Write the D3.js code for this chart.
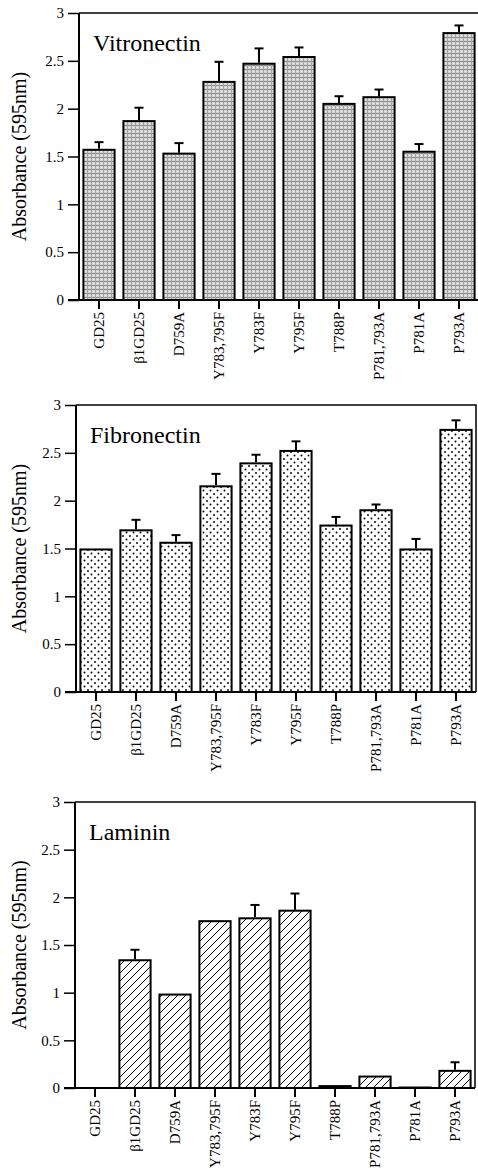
<!DOCTYPE html>
<html>
<head>
<meta charset="utf-8">
<script src="https://cdn.jsdelivr.net/npm/d3@7"></script>
<style>
    body { margin: 0; background: #fff; }
    svg text { font-family: "Liberation Serif", "Times New Roman", serif; fill: #000; }
</style>
</head>
<body>
<div id="chart"></div>
<script>
// mutants on the x axis
const categories = ["GD25", "β1GD25", "D759A", "Y783,795F", "Y783F", "Y795F", "T788P", "P781,793A", "P781A", "P793A"];

// absorbance values
const vitronectin = [1.57, 1.87, 1.53, 2.28, 2.47, 2.54, 2.05, 2.12, 1.55, 2.79];
const vitronectinErr = [0.08, 0.14, 0.11, 0.21, 0.16, 0.10, 0.08, 0.08, 0.08, 0.08];

const fibronectin = [1.49, 1.69, 1.56, 2.15, 2.39, 2.52, 1.74, 1.90, 1.49, 2.74];
const fibronectinErr = [0, 0.11, 0.08, 0.13, 0.09, 0.10, 0.09, 0.06, 0.11, 0.10];

const laminin = [0, 1.34, 0.98, 1.75, 1.78, 1.86, 0.02, 0.12, 0.005, 0.18];
const lamininErr = [0, 0.11, 0, 0, 0.14, 0.18, 0, 0, 0, 0.09];

const yTicks = [0, 0.5, 1, 1.5, 2, 2.5, 3];
const yTickLabels = ["0", "0.5", "1", "1.5", "2", "2.5", "3"];

const serif = "'Liberation Serif', 'Times New Roman', serif";

const svg = d3.select("#chart").append("svg")
    .attr("width", 478)
    .attr("height", 1173);

// fill patterns
const defs = svg.append("defs");

let grey = defs.append("pattern")
    .attr("id", "grey")
    .attr("patternUnits", "userSpaceOnUse")
    .attr("width", 4).attr("height", 4);
grey.append("rect").attr("width", 4).attr("height", 4).attr("fill", "#d4d4d4");
grey.append("rect").attr("x", 0).attr("y", 0).attr("width", 4).attr("height", 1).attr("fill", "#8c8c8c");
grey.append("rect").attr("x", 0).attr("y", 0).attr("width", 1).attr("height", 4).attr("fill", "#a4a4a4");
grey.append("rect").attr("x", 2).attr("y", 2).attr("width", 1).attr("height", 1).attr("fill", "#f4f4f4");

let dots = defs.append("pattern")
    .attr("id", "dots")
    .attr("patternUnits", "userSpaceOnUse")
    .attr("width", 7).attr("height", 7);
dots.append("rect").attr("width", 7).attr("height", 7).attr("fill", "#fff");
dots.append("circle").attr("cx", 1.5).attr("cy", 1.5).attr("r", 0.95).attr("fill", "#000");
dots.append("circle").attr("cx", 5).attr("cy", 5).attr("r", 0.95).attr("fill", "#000");

let hatch = defs.append("pattern")
    .attr("id", "hatch")
    .attr("patternUnits", "userSpaceOnUse")
    .attr("width", 8).attr("height", 8);
hatch.append("rect").attr("width", 8).attr("height", 8).attr("fill", "#fff");
hatch.append("path")
    .attr("d", "M0,8 L8,0 M-2,2 L2,-2 M6,10 L10,6")
    .attr("stroke", "#000")
    .attr("stroke-width", 1);

class BarPanel {
    constructor(title, values, errors, fill, left, top, bottom) {
        this.title = title;
        this.values = values;
        this.errors = errors;
        this.fill = fill;
        this.left = left;
        this.top = top;
        this.bottom = bottom;

        this.initVis();
    }

    initVis() {
        let vis = this;

        vis.width = 400;
        vis.height = vis.bottom - vis.top;

        vis.g = svg.append("g")
            .attr("transform", `translate(${vis.left}, ${vis.top})`);

        vis.x = d3.scaleBand()
            .domain(categories)
            .range([0, vis.width])
            .paddingInner(0.22)
            .paddingOuter(0.11);

        vis.y = d3.scaleLinear()
            .domain([0, 3])
            .range([vis.height, 0]);

        vis.updateVis();
    }

    updateVis() {
        let vis = this;
        let rows = categories.map((c, i) => ({cat: c, v: vis.values[i], e: vis.errors[i]}));

        // bars
        vis.g.selectAll(".bar")
            .data(rows.filter(d => d.v > 0))
            .enter()
            .append("rect")
            .attr("class", "bar")
            .attr("x", d => vis.x(d.cat))
            .attr("width", vis.x.bandwidth())
            .attr("y", d => vis.y(d.v))
            .attr("height", d => vis.height - vis.y(d.v))
            .attr("fill", vis.fill)
            .attr("stroke", "#000")
            .attr("stroke-width", 2);

        // error bars, upper half only
        let err = vis.g.selectAll(".err")
            .data(rows.filter(d => d.e > 0))
            .enter()
            .append("g")
            .attr("class", "err")
            .attr("stroke", "#000")
            .attr("stroke-width", 2);

        err.append("line")
            .attr("x1", d => vis.x(d.cat) + vis.x.bandwidth() / 2)
            .attr("x2", d => vis.x(d.cat) + vis.x.bandwidth() / 2)
            .attr("y1", d => vis.y(d.v) - 1)
            .attr("y2", d => vis.y(d.v + d.e));

        err.append("line")
            .attr("x1", d => vis.x(d.cat) + vis.x.bandwidth() / 2 - 4.5)
            .attr("x2", d => vis.x(d.cat) + vis.x.bandwidth() / 2 + 4.5)
            .attr("y1", d => vis.y(d.v + d.e))
            .attr("y2", d => vis.y(d.v + d.e));

        // frame top and right
        vis.g.append("path")
            .attr("d", `M0,${vis.y(3)} H${vis.width} V${vis.height}`)
            .attr("fill", "none")
            .attr("stroke", "#000")
            .attr("stroke-width", 1.5);

        // y axis
        let yAxis = vis.g.append("g")
            .call(d3.axisLeft(vis.y)
                .tickValues(yTicks)
                .tickFormat((d, i) => yTickLabels[i])
                .tickSize(11)
                .tickPadding(4));
        yAxis.select(".domain").attr("stroke-width", 2).attr("d", `M0,${vis.height}V0`);
        yAxis.selectAll(".tick line").attr("stroke-width", 1.5);
        yAxis.selectAll("text")
            .style("font-size", "15px")
            .style("font-family", serif)
            .attr("fill", "#000");

        // x axis
        let xAxis = vis.g.append("g")
            .attr("transform", `translate(0, ${vis.height})`)
            .call(d3.axisBottom(vis.x).tickSize(9).tickPadding(3));
        xAxis.select(".domain").attr("stroke-width", 2).attr("d", "M-11,0H" + vis.width);
        xAxis.selectAll(".tick line").attr("stroke-width", 2);
        xAxis.selectAll("text")
            .style("font-size", "15px")
            .style("font-family", serif)
            .attr("fill", "#000")
            .attr("transform", "rotate(-90)")
            .attr("text-anchor", "end")
            .attr("x", -12)
            .attr("y", 0)
            .attr("dy", "0.35em");

        // panel title
        vis.g.append("text")
            .text(vis.title)
            .attr("x", 14)
            .attr("y", 38)
            .style("font-family", serif)
            .style("font-size", "24px");

        // y label
        vis.g.append("text")
            .text("Absorbance (595nm)")
            .attr("transform", `translate(${19 - vis.left}, ${vis.height / 2}) rotate(-90)`)
            .attr("text-anchor", "middle")
            .attr("dy", "0.35em")
            .style("font-family", serif)
            .style("font-size", "20px");
    }
}

new BarPanel("Vitronectin", vitronectin, vitronectinErr, "url(#grey)", 79, 13, 300);
new BarPanel("Fibronectin", fibronectin, fibronectinErr, "url(#dots)", 76, 405, 692);
new BarPanel("Laminin", laminin, lamininErr, "url(#hatch)", 75, 802, 1088);
</script>
</body>
</html>
